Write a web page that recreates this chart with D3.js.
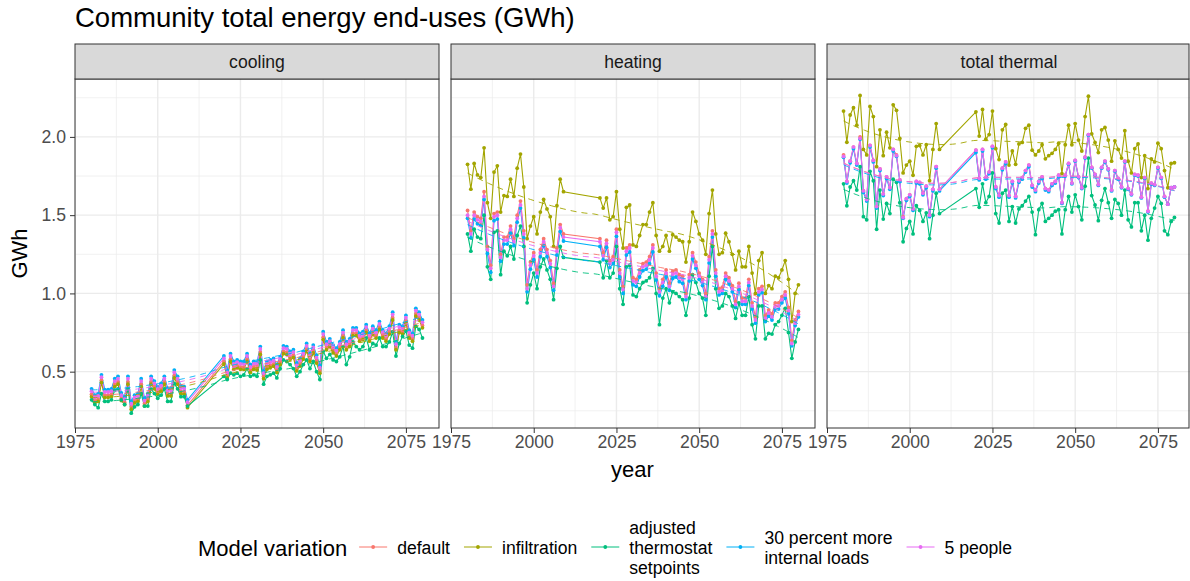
<!DOCTYPE html>
<html>
<head>
<meta charset="utf-8">
<script src="https://cdn.jsdelivr.net/npm/d3@7"></script>
<style>
  body { margin: 0; background: #fff; }
  svg text { font-family: "Liberation Sans", Arial, Helvetica, sans-serif; }
</style>
</head>
<body>
<svg id="chart" width="1190" height="581"></svg>
<script>
// ---- data -------------------------------------------------------------
const years = [
  1980, 1981, 1982, 1983, 1984, 1985, 1986, 1987, 1988, 1989,
  1990, 1991, 1992, 1993, 1994, 1995, 1996, 1997, 1998, 1999,
  2000, 2001, 2002, 2003, 2004, 2005, 2006, 2007, 2008, 2009,
  2020, 2021, 2022, 2023, 2024, 2025, 2026, 2027, 2028, 2029,
  2030, 2031, 2032, 2033, 2034, 2035, 2036, 2037, 2038, 2039,
  2040, 2041, 2042, 2043, 2044, 2045, 2046, 2047, 2048, 2049,
  2050, 2051, 2052, 2053, 2054, 2055, 2056, 2057, 2058, 2059,
  2060, 2061, 2062, 2063, 2064, 2065, 2066, 2067, 2068, 2069,
  2070, 2071, 2072, 2073, 2074, 2075, 2076, 2077, 2078, 2079, 2080
];

const panelNames = ["cooling", "heating", "total thermal"];
const variations = ["default", "infiltration", "adjusted thermostat setpoints",
                    "30 percent more internal loads", "5 people"];
const legendLines = [["default"], ["infiltration"], ["adjusted", "thermostat", "setpoints"],
                     ["30 percent more", "internal loads"], ["5 people"]];
const xTicks = [1975, 2000, 2025, 2050, 2075];
const yTicks = [0.5, 1.0, 1.5, 2.0];

// cooling end-use (GWh)
const coolingDefault = [
  0.355, 0.315, 0.325, 0.445, 0.35, 0.35, 0.355, 0.42, 0.435, 0.33,
  0.305, 0.435, 0.275, 0.315, 0.325, 0.42, 0.295, 0.325, 0.435, 0.405,
  0.37, 0.39, 0.435, 0.36, 0.36, 0.475, 0.435, 0.375, 0.37, 0.285,
  0.565, 0.475, 0.58, 0.53, 0.54, 0.53, 0.53, 0.58, 0.51, 0.53,
  0.525, 0.625, 0.47, 0.53, 0.54, 0.55, 0.51, 0.56, 0.63, 0.625,
  0.595, 0.605, 0.52, 0.55, 0.595, 0.645, 0.58, 0.635, 0.57, 0.505,
  0.72, 0.655, 0.675, 0.635, 0.615, 0.655, 0.73, 0.655, 0.675, 0.745,
  0.745, 0.71, 0.72, 0.765, 0.71, 0.755, 0.73, 0.785, 0.73, 0.71,
  0.755, 0.845, 0.655, 0.765, 0.755, 0.825, 0.73, 0.71, 0.87, 0.845, 0.795
];
const coolingInfiltration = [
  0.34, 0.30, 0.31, 0.43, 0.335, 0.335, 0.34, 0.405, 0.42, 0.315,
  0.29, 0.42, 0.26, 0.30, 0.31, 0.405, 0.28, 0.31, 0.42, 0.39,
  0.355, 0.375, 0.42, 0.345, 0.345, 0.46, 0.42, 0.36, 0.355, 0.27,
  0.55, 0.46, 0.565, 0.515, 0.525, 0.515, 0.515, 0.565, 0.495, 0.515,
  0.51, 0.61, 0.455, 0.515, 0.525, 0.535, 0.495, 0.545, 0.615, 0.61,
  0.58, 0.59, 0.505, 0.535, 0.58, 0.63, 0.565, 0.62, 0.555, 0.49,
  0.705, 0.64, 0.66, 0.62, 0.60, 0.64, 0.715, 0.64, 0.66, 0.73,
  0.73, 0.695, 0.705, 0.75, 0.695, 0.74, 0.715, 0.77, 0.715, 0.695,
  0.74, 0.83, 0.64, 0.75, 0.74, 0.81, 0.715, 0.695, 0.855, 0.83, 0.78
];
const coolingThermostat = [
  0.32, 0.29, 0.27, 0.36, 0.31, 0.31, 0.32, 0.38, 0.39, 0.32,
  0.29, 0.39, 0.235, 0.275, 0.29, 0.36, 0.28, 0.28, 0.39, 0.36,
  0.33, 0.35, 0.39, 0.31, 0.31, 0.425, 0.39, 0.34, 0.34, 0.28,
  0.47, 0.45, 0.49, 0.48, 0.49, 0.47, 0.48, 0.52, 0.47, 0.48,
  0.47, 0.575, 0.42, 0.47, 0.48, 0.49, 0.46, 0.52, 0.575, 0.565,
  0.545, 0.52, 0.47, 0.50, 0.545, 0.575, 0.52, 0.565, 0.50, 0.45,
  0.63, 0.585, 0.61, 0.575, 0.565, 0.595, 0.66, 0.545, 0.595, 0.69,
  0.66, 0.64, 0.66, 0.715, 0.64, 0.68, 0.67, 0.715, 0.66, 0.66,
  0.69, 0.755, 0.60, 0.68, 0.725, 0.76, 0.67, 0.65, 0.79, 0.77, 0.715
];
const coolingInternalLoads = [
  0.39, 0.35, 0.36, 0.48, 0.385, 0.385, 0.39, 0.455, 0.47, 0.365,
  0.34, 0.47, 0.31, 0.35, 0.36, 0.455, 0.33, 0.36, 0.47, 0.44,
  0.405, 0.425, 0.47, 0.395, 0.395, 0.51, 0.47, 0.41, 0.405, 0.32,
  0.60, 0.51, 0.615, 0.565, 0.575, 0.565, 0.565, 0.615, 0.545, 0.565,
  0.56, 0.66, 0.505, 0.565, 0.575, 0.585, 0.545, 0.595, 0.665, 0.66,
  0.63, 0.64, 0.555, 0.585, 0.63, 0.68, 0.615, 0.67, 0.605, 0.54,
  0.755, 0.69, 0.71, 0.67, 0.65, 0.69, 0.765, 0.69, 0.71, 0.78,
  0.78, 0.745, 0.755, 0.80, 0.745, 0.79, 0.765, 0.82, 0.765, 0.745,
  0.79, 0.88, 0.69, 0.80, 0.79, 0.86, 0.765, 0.745, 0.905, 0.88, 0.83
];
const coolingFivePeople = [
  0.375, 0.335, 0.345, 0.465, 0.37, 0.37, 0.375, 0.44, 0.455, 0.35,
  0.325, 0.455, 0.295, 0.335, 0.345, 0.44, 0.315, 0.345, 0.455, 0.425,
  0.39, 0.41, 0.455, 0.38, 0.38, 0.495, 0.455, 0.395, 0.39, 0.305,
  0.585, 0.495, 0.60, 0.55, 0.56, 0.55, 0.55, 0.60, 0.53, 0.55,
  0.545, 0.645, 0.49, 0.55, 0.56, 0.57, 0.53, 0.58, 0.65, 0.645,
  0.615, 0.625, 0.54, 0.57, 0.615, 0.665, 0.60, 0.655, 0.59, 0.525,
  0.74, 0.675, 0.695, 0.655, 0.635, 0.675, 0.75, 0.675, 0.695, 0.765,
  0.765, 0.73, 0.74, 0.785, 0.73, 0.775, 0.75, 0.805, 0.75, 0.73,
  0.775, 0.865, 0.675, 0.785, 0.775, 0.845, 0.75, 0.73, 0.89, 0.865, 0.815
];

// heating end-use (GWh)
const heatingDefault = [
  1.53, 1.40, 1.52, 1.49, 1.48, 1.65, 1.30, 1.18, 1.51, 1.52,
  1.25, 1.36, 1.36, 1.43, 1.35, 1.50, 1.59, 1.40, 1.055, 1.20,
  1.26, 1.15, 1.28, 1.35, 1.28, 1.21, 1.065, 1.29, 1.44, 1.38,
  1.35, 1.26, 1.34, 1.21, 1.235, 1.41, 1.15, 1.045, 1.29, 1.31,
  1.10, 1.09, 1.15, 1.19, 1.20, 1.235, 1.31, 1.13, 1.03, 1.09,
  1.15, 1.065, 1.14, 1.15, 1.12, 1.11, 1.00, 1.12, 1.26, 1.20,
  1.13, 1.09, 1.00, 1.235, 1.40, 1.15, 1.03, 1.04, 1.13, 1.10,
  1.05, 0.95, 1.065, 0.97, 0.97, 1.09, 0.94, 0.85, 1.03, 1.045,
  0.86, 0.895, 0.87, 0.94, 0.94, 0.98, 1.01, 0.91, 0.70, 0.83, 0.885
];
const heatingInfiltration = [
  1.825, 1.666, 1.83, 1.757, 1.74, 1.93, 1.58, 1.48, 1.775, 1.815,
  1.52, 1.625, 1.62, 1.73, 1.62, 1.80, 1.89, 1.68, 1.35, 1.43,
  1.49, 1.38, 1.52, 1.60, 1.54, 1.49, 1.30, 1.56, 1.73, 1.65,
  1.61, 1.545, 1.61, 1.47, 1.49, 1.65, 1.41, 1.29, 1.55, 1.565,
  1.31, 1.30, 1.37, 1.44, 1.44, 1.52, 1.58, 1.37, 1.27, 1.30,
  1.37, 1.27, 1.375, 1.36, 1.34, 1.33, 1.20, 1.33, 1.52, 1.46,
  1.38, 1.34, 1.25, 1.51, 1.66, 1.38, 1.25, 1.26, 1.385, 1.33,
  1.25, 1.15, 1.27, 1.17, 1.17, 1.30, 1.13, 1.00, 1.21, 1.26,
  1.00, 1.05, 1.03, 1.11, 1.10, 1.15, 1.21, 1.09, 0.82, 1.00, 1.055
];
const heatingThermostat = [
  1.38, 1.27, 1.41, 1.36, 1.35, 1.50, 1.17, 1.09, 1.39, 1.40,
  1.12, 1.27, 1.24, 1.30, 1.22, 1.37, 1.43, 1.30, 0.94, 1.055,
  1.13, 1.03, 1.17, 1.22, 1.15, 1.09, 0.96, 1.16, 1.30, 1.23,
  1.20, 1.10, 1.21, 1.10, 1.13, 1.30, 1.03, 0.93, 1.17, 1.18,
  0.99, 0.98, 1.03, 1.07, 1.08, 1.10, 1.16, 1.00, 0.80, 0.97,
  1.03, 0.94, 1.01, 1.00, 0.98, 0.96, 0.86, 0.97, 1.12, 1.07,
  1.00, 0.97, 0.86, 1.11, 1.30, 1.03, 0.905, 0.92, 1.00, 0.98,
  0.92, 0.84, 0.94, 0.86, 0.86, 0.98, 0.80, 0.71, 0.92, 0.92,
  0.71, 0.745, 0.74, 0.80, 0.82, 0.86, 0.905, 0.75, 0.585, 0.69, 0.77
];
const heatingInternalLoads = [
  1.48, 1.355, 1.475, 1.445, 1.435, 1.60, 1.255, 1.135, 1.465, 1.475,
  1.205, 1.315, 1.315, 1.385, 1.305, 1.455, 1.545, 1.355, 1.01, 1.155,
  1.215, 1.105, 1.235, 1.305, 1.235, 1.165, 1.02, 1.245, 1.395, 1.335,
  1.30, 1.215, 1.295, 1.165, 1.19, 1.365, 1.105, 1.00, 1.245, 1.265,
  1.055, 1.045, 1.105, 1.145, 1.155, 1.19, 1.265, 1.085, 0.985, 1.045,
  1.105, 1.02, 1.095, 1.105, 1.075, 1.065, 0.96, 1.08, 1.22, 1.16,
  1.09, 1.05, 0.96, 1.195, 1.36, 1.11, 0.99, 1.00, 1.09, 1.06,
  1.01, 0.91, 1.025, 0.93, 0.93, 1.05, 0.90, 0.81, 0.99, 1.005,
  0.82, 0.855, 0.83, 0.90, 0.90, 0.94, 0.97, 0.87, 0.665, 0.795, 0.85
];
const heatingFivePeople = [
  1.50, 1.38, 1.50, 1.47, 1.46, 1.62, 1.28, 1.16, 1.49, 1.50,
  1.23, 1.34, 1.34, 1.41, 1.33, 1.48, 1.565, 1.38, 1.03, 1.18,
  1.24, 1.13, 1.26, 1.33, 1.26, 1.19, 1.045, 1.27, 1.42, 1.36,
  1.33, 1.24, 1.32, 1.19, 1.215, 1.39, 1.13, 1.025, 1.27, 1.29,
  1.08, 1.07, 1.13, 1.17, 1.18, 1.215, 1.29, 1.11, 1.01, 1.07,
  1.13, 1.045, 1.12, 1.13, 1.10, 1.09, 0.98, 1.10, 1.24, 1.18,
  1.11, 1.07, 0.98, 1.215, 1.38, 1.13, 1.01, 1.02, 1.11, 1.08,
  1.03, 0.93, 1.045, 0.95, 0.95, 1.07, 0.92, 0.83, 1.01, 1.025,
  0.84, 0.875, 0.85, 0.92, 0.92, 0.96, 0.99, 0.89, 0.68, 0.81, 0.865
];

// ---- styling ----------------------------------------------------------
const colors = ["#F8766D", "#A3A500", "#00BF7D", "#00B0F6", "#E76BF3"];
const W = 1190, H = 581;
const panelLefts = [75, 451, 827];
const panelW = 364;
const stripTop = 44, panelTop = 79, panelBottom = 428;
const tickFont = 17.6, textGrey = "#4D4D4D";

const cooling = [coolingDefault, coolingInfiltration, coolingThermostat, coolingInternalLoads, coolingFivePeople];
const heating = [heatingDefault, heatingInfiltration, heatingThermostat, heatingInternalLoads, heatingFivePeople];
// total thermal end-use is the sum of the heating and cooling end-uses
const totalThermal = heating.map((h, s) => h.map((v, i) => v + cooling[s][i]));
const panelSeries = [cooling, heating, totalThermal];

// local quadratic regression (loess, span 0.75, tricube weights)
function loess(xs, ys, span, nOut) {
  const n = xs.length, q = Math.floor(n * span);
  const lo = d3.min(xs), hi = d3.max(xs);
  const out = [];
  for (let k = 0; k < nOut; k++) {
    const x0 = lo + (hi - lo) * k / (nOut - 1);
    const h = xs.map(x => Math.abs(x - x0)).sort((a, b) => a - b)[q - 1] * 1.0001;
    let s0 = 0, s1 = 0, s2 = 0, s3 = 0, s4 = 0, t0 = 0, t1 = 0, t2 = 0;
    for (let i = 0; i < n; i++) {
      const u = (xs[i] - x0) / h, r = Math.abs(u);
      if (r >= 1) continue;
      const w = Math.pow(1 - r * r * r, 3);
      s0 += w; s1 += w * u; s2 += w * u * u; s3 += w * u * u * u; s4 += w * u * u * u * u;
      t0 += w * ys[i]; t1 += w * u * ys[i]; t2 += w * u * u * ys[i];
    }
    const det = (a) => a[0][0] * (a[1][1] * a[2][2] - a[1][2] * a[2][1])
                     - a[0][1] * (a[1][0] * a[2][2] - a[1][2] * a[2][0])
                     + a[0][2] * (a[1][0] * a[2][1] - a[1][1] * a[2][0]);
    const M = [[s0, s1, s2], [s1, s2, s3], [s2, s3, s4]];
    const Ma = [[t0, s1, s2], [t1, s2, s3], [t2, s3, s4]];
    out.push([x0, det(Ma) / det(M)]);
  }
  return out;
}

const svg = d3.select("#chart");
svg.append("rect").attr("width", W).attr("height", H).attr("fill", "#fff");

// title
svg.append("text").attr("x", 75).attr("y", 27)
  .attr("font-size", 27.5).attr("fill", "#000")
  .text("Community total energy end-uses (GWh)");

const y = d3.scaleLinear().domain([0.14, 2.37]).range([panelBottom, panelTop]);
const yMinor = [0.25, 0.75, 1.25, 1.75, 2.25];
const xMinor = [1987.5, 2012.5, 2037.5, 2062.5];

panelNames.forEach((name, p) => {
  const left = panelLefts[p];
  const visW = Math.min(panelW, W - 1 - left);
  const x = d3.scaleLinear().domain([1975, 2085]).range([left, left + panelW]);
  const g = svg.append("g");
  const clipId = "clip" + p;
  svg.append("clipPath").attr("id", clipId).append("rect")
    .attr("x", left).attr("y", panelTop).attr("width", panelW).attr("height", panelBottom - panelTop);

  // grid
  const grid = g.append("g").attr("clip-path", `url(#${clipId})`);
  grid.selectAll(".ymin").data(yMinor).join("line")
    .attr("x1", left).attr("x2", left + panelW).attr("y1", d => y(d)).attr("y2", d => y(d))
    .attr("stroke", "#EBEBEB").attr("stroke-width", 0.7);
  grid.selectAll(".xmin").data(xMinor).join("line")
    .attr("y1", panelTop).attr("y2", panelBottom).attr("x1", d => x(d)).attr("x2", d => x(d))
    .attr("stroke", "#EBEBEB").attr("stroke-width", 0.7);
  grid.selectAll(".ymaj").data(yTicks).join("line")
    .attr("x1", left).attr("x2", left + panelW).attr("y1", d => y(d)).attr("y2", d => y(d))
    .attr("stroke", "#EBEBEB").attr("stroke-width", 1.4);
  grid.selectAll(".xmaj").data(xTicks).join("line")
    .attr("y1", panelTop).attr("y2", panelBottom).attr("x1", d => x(d)).attr("x2", d => x(d))
    .attr("stroke", "#EBEBEB").attr("stroke-width", 1.4);

  const series = panelSeries[p];
  const plot = g.append("g").attr("clip-path", `url(#${clipId})`);
  const line = d3.line().x(d => x(d[0])).y(d => y(d[1]));

  // observed series: lines
  series.forEach((vals, s) => {
    plot.append("path").datum(years.map((yr, i) => [yr, vals[i]]))
      .attr("d", line).attr("fill", "none")
      .attr("stroke", colors[s]).attr("stroke-width", 1.1);
  });
  // observed series: points
  series.forEach((vals, s) => {
    plot.append("g").selectAll("circle").data(years.map((yr, i) => [yr, vals[i]])).join("circle")
      .attr("cx", d => x(d[0])).attr("cy", d => y(d[1])).attr("r", 1.9)
      .attr("fill", colors[s]);
  });
  // smoothed trends (dashed)
  series.forEach((vals, s) => {
    plot.append("path").datum(loess(years, vals, 0.75, 80))
      .attr("d", line).attr("fill", "none")
      .attr("stroke", colors[s]).attr("stroke-width", 0.9)
      .attr("stroke-dasharray", "6,5");
  });

  // panel border
  g.append("rect").attr("x", left).attr("y", panelTop).attr("width", visW).attr("height", panelBottom - panelTop)
    .attr("fill", "none").attr("stroke", "#333").attr("stroke-width", 1);

  // strip
  g.append("rect").attr("x", left).attr("y", stripTop).attr("width", visW).attr("height", panelTop - stripTop)
    .attr("fill", "#D9D9D9").attr("stroke", "#333").attr("stroke-width", 1);
  g.append("text").attr("x", left + panelW / 2).attr("y", (stripTop + panelTop) / 2)
    .attr("text-anchor", "middle").attr("dominant-baseline", "central")
    .attr("font-size", tickFont).attr("fill", "#1A1A1A").text(name);

  // x axis
  const xa = svg.append("g").attr("transform", `translate(0,${panelBottom})`)
    .call(d3.axisBottom(x).tickValues(xTicks).tickFormat(d3.format("d")).tickSize(5).tickPadding(3));
  xa.select(".domain").remove();
  xa.selectAll(".tick line").attr("stroke", "#333").attr("stroke-width", 1);
  xa.selectAll(".tick text").attr("font-size", tickFont).attr("fill", textGrey)
    .attr("font-family", null);

  // y axis on the first panel only
  if (p === 0) {
    const ya = svg.append("g").attr("transform", `translate(${left},0)`)
      .call(d3.axisLeft(y).tickValues(yTicks).tickFormat(d3.format(".1f")).tickSize(5).tickPadding(4));
    ya.select(".domain").remove();
    ya.selectAll(".tick line").attr("stroke", "#333").attr("stroke-width", 1);
    ya.selectAll(".tick text").attr("font-size", tickFont).attr("fill", textGrey)
      .attr("font-family", null);
  }
});

// axis titles
svg.append("text").attr("x", (75 + 1190) / 2).attr("y", 477)
  .attr("text-anchor", "middle").attr("font-size", 22).attr("fill", "#000").text("year");
svg.append("text").attr("transform", `translate(27,${(panelTop + panelBottom) / 2}) rotate(-90)`)
  .attr("text-anchor", "middle").attr("font-size", 22).attr("fill", "#000").text("GWh");

// legend
const legendY = 548;
const lg = svg.append("g");
const lt = lg.append("text").attr("x", 0).attr("y", legendY)
  .attr("dominant-baseline", "central").attr("font-size", 22).attr("fill", "#000")
  .text("Model variation");
let cursor = lt.node().getComputedTextLength() + 12;
variations.forEach((v, i) => {
  const keyW = 28;
  lg.append("line").attr("x1", cursor).attr("x2", cursor + keyW)
    .attr("y1", legendY - 1).attr("y2", legendY - 1)
    .attr("stroke", colors[i]).attr("stroke-width", 1);
  lg.append("circle").attr("cx", cursor + keyW / 2).attr("cy", legendY - 1).attr("r", 1.9)
    .attr("fill", colors[i]);
  cursor += keyW + 10;
  const lines = legendLines[i];
  let maxW = 0;
  lines.forEach((t, j) => {
    const tx = lg.append("text").attr("x", cursor)
      .attr("y", legendY + (j - (lines.length - 1) / 2) * 20)
      .attr("dominant-baseline", "central").attr("font-size", tickFont).attr("fill", "#000")
      .text(t);
    maxW = Math.max(maxW, tx.node().getComputedTextLength());
  });
  cursor += maxW + 14;
});
const legendWidth = cursor - 14;
lg.attr("transform", `translate(${605 - legendWidth / 2},0)`);
</script>
</body>
</html>
